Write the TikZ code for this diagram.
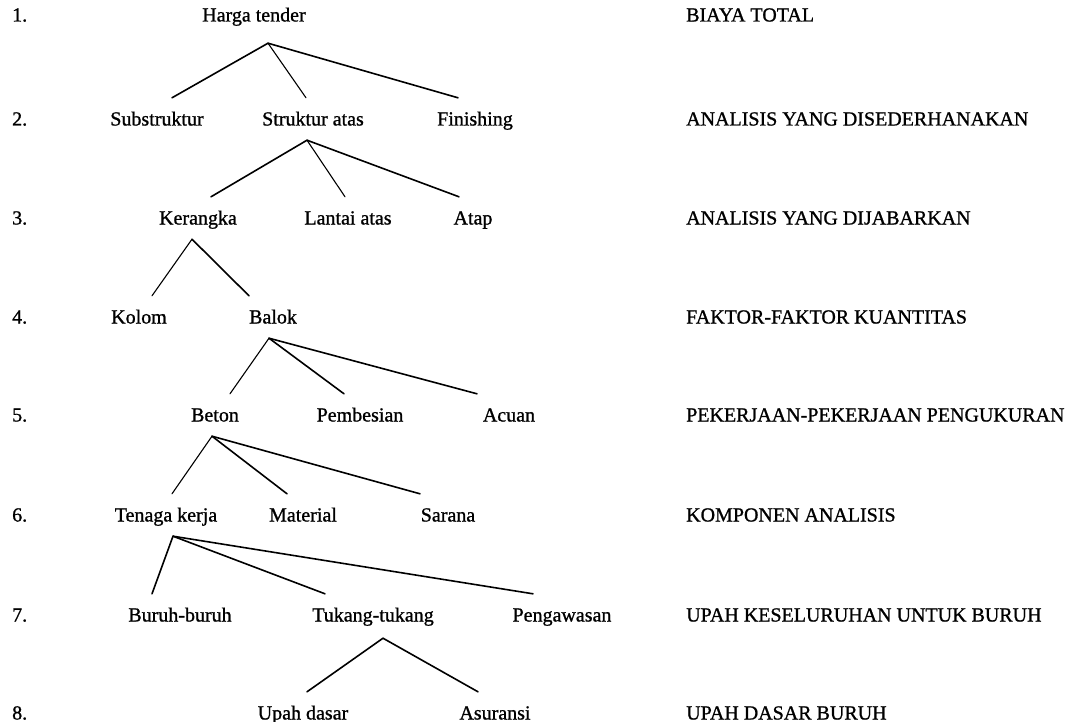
\documentclass[tikz,border=0pt]{standalone}
\usepackage{fontspec}
\setmainfont{Liberation Serif}[FakeBold=1]
\usepackage{tikz}
\usetikzlibrary{positioning}
\tikzset{item/.style={inner xsep=0pt,inner ysep=14.5pt,text height=13pt,text depth=0pt,font=\fontsize{20}{24}\selectfont},
lvl/.style={item,anchor=west},
link/.style={line width=1.6pt,line cap=round},
thinlink/.style={line width=1.1pt,line cap=round}}

\begin{document}
\begin{tikzpicture}[x=1pt,y=-1pt]
\useasboundingbox (0,0) rectangle (1086,722);

% level numbers and names
\node(n1) at (12,15) [lvl] {1.};
\node(n2) at (12,119) [lvl] {2.};
\node(n3) at (12,218) [lvl] {3.};
\node(n4) at (12,317) [lvl] {4.};
\node(n5) at (12,415) [lvl] {5.};
\node(n6) at (12,515) [lvl] {6.};
\node(n7) at (12,615) [lvl] {7.};
\node(n8) at (12,713) [lvl] {8.};
\node(t1) at (686,15) [lvl] {BIAYA TOTAL};
\node(t2) at (686,119) [lvl] {ANALISIS YANG DISEDERHANAKAN};
\node(t3) at (686,218) [lvl] {ANALISIS YANG DIJABARKAN};
\node(t4) at (686,317) [lvl] {FAKTOR-FAKTOR KUANTITAS};
\node(t5) at (686,415) [lvl] {PEKERJAAN-PEKERJAAN PENGUKURAN};
\node(t6) at (686,515) [lvl] {KOMPONEN ANALISIS};
\node(t7) at (686,615) [lvl] {UPAH KESELURUHAN UNTUK BURUH};
\node(t8) at (686,713) [lvl] {UPAH DASAR BURUH};

% tree
\node(harga) at (254,15) [item] {Harga tender};
\node(sub) at (157,119) [item] {Substruktur};
\node(str) at (313,119) [item] {Struktur atas};
\node(fin) at (475,119) [item] {Finishing};
\node(ker) at (198,218) [item] {Kerangka};
\node(lan) at (348,218) [item] {Lantai atas};
\node(atap) at (473,218) [item] {Atap};
\node(kol) at (139,317) [item] {Kolom};
\node(bal) at (273,317) [item] {Balok};
\node(bet) at (215,415) [item] {Beton};
\node(pem) at (360,415) [item] {Pembesian};
\node(acu) at (509,415) [item] {Acuan};
\node(ten) at (166,515) [item] {Tenaga kerja};
\node(mat) at (303,515) [item] {Material};
\node(sar) at (448,515) [item] {Sarana};
\node(bur) at (180,615) [item] {Buruh-buruh};
\node(tuk) at (373,615) [item] {Tukang-tukang};
\node(pen) at (562,615) [item] {Pengawasan};
\node(upah) at (303,713) [item] {Upah dasar};
\node(asu) at (495,713) [item] {Asuransi};

\draw ([xshift=14pt,yshift=-7pt]harga.south) edge[link] ([xshift=15pt]sub.north);
\draw ([xshift=14pt,yshift=-7pt]harga.south) edge[thinlink] ([xshift=-7pt]str.north);
\draw ([xshift=14pt,yshift=-7pt]harga.south) edge[link] ([xshift=-17pt]fin.north);
\draw ([xshift=-6pt]str.south) edge[link] ([xshift=13pt]ker.north);
\draw ([xshift=-6pt]str.south) edge[thinlink] ([xshift=-3pt]lan.north);
\draw ([xshift=-6pt]str.south) edge[link] ([xshift=-14pt]atap.north);
\draw ([xshift=-6pt]ker.south) edge[thinlink] ([xshift=13pt]kol.north);
\draw ([xshift=-6pt]ker.south) edge[link] ([xshift=-24pt]bal.north);
\draw ([xshift=-4pt]bal.south) edge[thinlink] ([xshift=15pt]bet.north);
\draw ([xshift=-4pt]bal.south) edge[link] ([xshift=-16pt]pem.north);
\draw ([xshift=-4pt]bal.south) edge[link] ([xshift=-32pt]acu.north);
\draw ([xshift=-3pt]bet.south) edge[thinlink] ([xshift=6pt]ten.north);
\draw ([xshift=-3pt]bet.south) edge[link] ([xshift=-16pt]mat.north);
\draw ([xshift=-3pt]bet.south) edge[link] ([xshift=-28pt]sar.north);
\draw ([xshift=7pt]ten.south) edge[link] ([xshift=-28pt]bur.north);
\draw ([xshift=7pt]ten.south) edge[link] ([xshift=-48pt]tuk.north);
\draw ([xshift=7pt]ten.south) edge[link] ([xshift=-29pt]pen.north);
\draw ([xshift=10pt,yshift=-2pt]tuk.south) edge[link] ([xshift=4pt]upah.north);
\draw ([xshift=10pt,yshift=-2pt]tuk.south) edge[link] ([xshift=-17pt]asu.north);

\end{tikzpicture}
\end{document}
